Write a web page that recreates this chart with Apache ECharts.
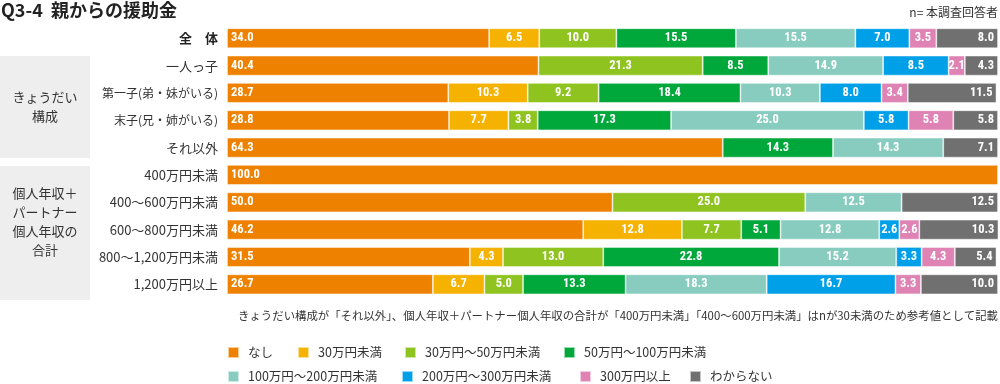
<!DOCTYPE html>
<html><head><meta charset="utf-8">
<script src="https://cdn.jsdelivr.net/npm/echarts@6/dist/echarts.min.js"></script>
<style>html,body{margin:0;padding:0;background:#fff}#c{width:1000px;height:384px}</style>
</head><body><div id="c"></div>
<script>
const categories = ['全　体','一人っ子','第一子（弟・妹がいる）','末子（兄・姉がいる）','それ以外','400万円未満','400～600万円未満','600～800万円未満','800～1,200万円未満','1,200万円以上'];
const seriesNames = ['なし','30万円未満','30万円～50万円未満','50万円～100万円未満','100万円～200万円未満','200万円～300万円未満','300万円以上','わからない'];
const vNone     = [34.0,40.4,28.7,28.8,64.3,100.0,50.0,46.2,31.5,26.7];
const vUnder30  = [6.5,0,10.3,7.7,0,0,0,12.8,4.3,6.7];
const v30to50   = [10.0,21.3,9.2,3.8,0,0,25.0,7.7,13.0,5.0];
const v50to100  = [15.5,8.5,18.4,17.3,14.3,0,0,5.1,22.8,13.3];
const v100to200 = [15.5,14.9,10.3,25.0,14.3,0,12.5,12.8,15.2,18.3];
const v200to300 = [7.0,8.5,8.0,5.8,0,0,0,2.6,3.3,16.7];
const vOver300  = [3.5,2.1,3.4,5.8,0,0,0,2.6,4.3,3.3];
const vUnknown  = [8.0,4.3,11.5,5.8,7.1,0,12.5,10.3,5.4,10.0];
const groupLabels = ['きょうだい\n構成','個人年収＋\nパートナー\n個人年収の\n合計'];
const title = 'Q3-4  親からの援助金';
const nText = 'n= 本調査回答者';
const note = 'きょうだい構成が「それ以外」、個人年収＋パートナー個人年収の合計が「400万円未満」「400～600万円未満」はnが30未満のため参考値として記載';

const allValues = [vNone,vUnder30,v30to50,v50to100,v100to200,v200to300,vOver300,vUnknown];
const colors = ['#EE8200','#F6B200','#8FC31F','#00A73B','#88CCC0','#00A0E8','#DE83B4','#717071'];
const JP = "'Noto Sans CJK JP','Noto Sans',sans-serif";
const NUM = "'Liberation Sans Narrow','Roboto Condensed','Roboto',sans-serif";

const series = allValues.map((arr, i) => ({
  name: seriesNames[i],
  type: 'bar',
  stack: 'total',
  barWidth: 20,
  data: arr.map(v => v === 0 ? '-' : v),
  itemStyle: { color: colors[i], borderColor: 'rgba(255,255,255,0.6)', borderWidth: 0.8 },
  label: {
    show: true,
    position: i === 0 ? 'insideLeft' : (i === allValues.length - 1 ? 'insideRight' : 'inside'),
    distance: 4,
    color: '#fff',
    fontFamily: NUM,
    fontSize: 12.5,
    fontWeight: 'bold',
    formatter: p => (typeof p.value === 'number' && p.value > 0) ? p.value.toFixed(1) : ''
  },
  emphasis: { disabled: true },
  animation: false
}));

const legendPos = [
  [227,346],[297,346],[404,346],[563,346],
  [227,370],[401,370],[579,370],[689,370]
];
const legends = seriesNames.map((n, i) => ({
  data: [n],
  left: legendPos[i][0], top: legendPos[i][1],
  padding: 0,
  itemWidth: 11, itemHeight: 11,
  icon: 'rect',
  textStyle: { color: '#333', fontSize: 12.5, fontFamily: JP, padding: [0,0,0,4] }
}));

function catLabel(v) {
  if (v === categories[0]) return '{b|' + v + '}';
  if (v.indexOf('（') >= 0) return '{s|' + v.replace('（', '(').replace('）', ')') + '}';
  return v;
}

const option = {
  animation: false,
  title: [
    { text: title, left: 1, top: 1, padding: 0, textStyle: { fontFamily: JP, fontSize: 18, fontWeight: 'bold', color: '#222' } },
    { text: nText, right: 2, top: 6, padding: 0, textStyle: { fontFamily: JP, fontSize: 12, fontWeight: 'normal', color: '#333' } }
  ],
  legend: legends,
  grid: { left: 227, right: 2, top: 24.6, height: 273.4, containLabel: false },
  xAxis: { type: 'value', min: 0, max: 100, show: false },
  yAxis: {
    type: 'category', data: categories, inverse: true,
    axisLine: { show: false }, axisTick: { show: false },
    axisLabel: {
      margin: 9, color: '#333', fontSize: 13, fontFamily: JP,
      formatter: catLabel,
      rich: {
        b: { fontWeight: 'bold', fontSize: 13, fontFamily: JP, color: '#222' },
        s: { fontSize: 12, fontFamily: JP, color: '#333' }
      }
    }
  },
  graphic: [
    { type: 'rect', left: 0, top: 56, shape: { width: 90, height: 102 }, style: { fill: '#eeeeee' }, z: -1 },
    { type: 'rect', left: 0, top: 166, shape: { width: 90, height: 134 }, style: { fill: '#eeeeee' }, z: -1 },
    { type: 'text', x: 45, y: 107, style: { text: groupLabels[0], fill: '#333', font: "13px " + JP, align: 'center', verticalAlign: 'middle', lineHeight: 19 } },
    { type: 'text', x: 45, y: 222, style: { text: groupLabels[1], fill: '#333', font: "13px " + JP, align: 'center', verticalAlign: 'middle', lineHeight: 19 } },
    { type: 'text', x: 998, y: 316, style: { text: note, fill: '#333', font: "11.4px " + JP, align: 'right', verticalAlign: 'middle' } }
  ],
  series: series
};
echarts.init(document.getElementById('c'), null, { renderer: 'canvas' }).setOption(option);
</script></body></html>
